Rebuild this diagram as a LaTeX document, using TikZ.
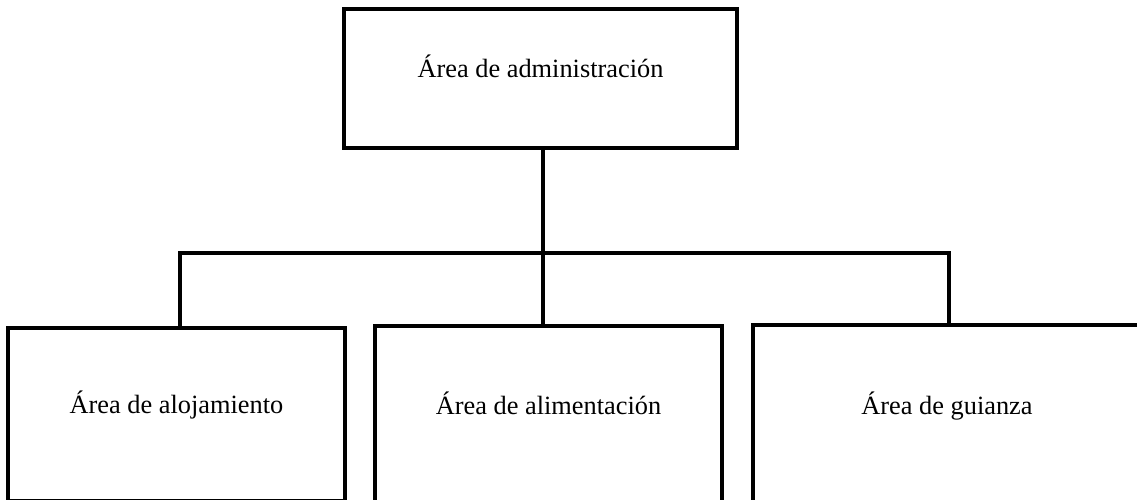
\documentclass[tikz,border=0pt]{standalone}
\usepackage{fontspec}
\setmainfont{Liberation Serif}
\usetikzlibrary{positioning}

\tikzset{
  areabox/.style={draw,line width=2.3pt,align=center,text height=0.47cm,text depth=0.5cm,
    font=\fontsize{15}{18}\selectfont},
  link/.style={line width=2.3pt}
}

\begin{document}
\begin{tikzpicture}[x=0.02cm,y=-0.02cm]
\clip (0,0) rectangle (1137,500);
% top box
\node[areabox,minimum width=7.86cm,minimum height=2.78cm] (admin) at (540.5,78.5) {Área de administración};
% lower boxes
\node[areabox,minimum width=6.74cm,minimum height=3.46cm] (aloj) at (176.5,414.5) {Área de alojamiento};
\node[areabox,minimum width=6.94cm,minimum height=3.58cm] (alim) at (548.5,415.5) {Área de alimentación};
\node[areabox,minimum width=7.76cm,minimum height=3.6cm] (guia) at (947,415) {Área de guianza};
% connectors
\coordinate (bus) at (543,253);
\coordinate (busL) at (180,253);
\coordinate (busR) at (949,253);
\draw[link] (admin.south -| bus) -- (bus);
\draw[link] (aloj.north -| busL) -- (busL) -- (busR) -- (guia.north -| busR);
\draw[link] (bus) -- (alim.north -| bus);
\end{tikzpicture}
\end{document}
